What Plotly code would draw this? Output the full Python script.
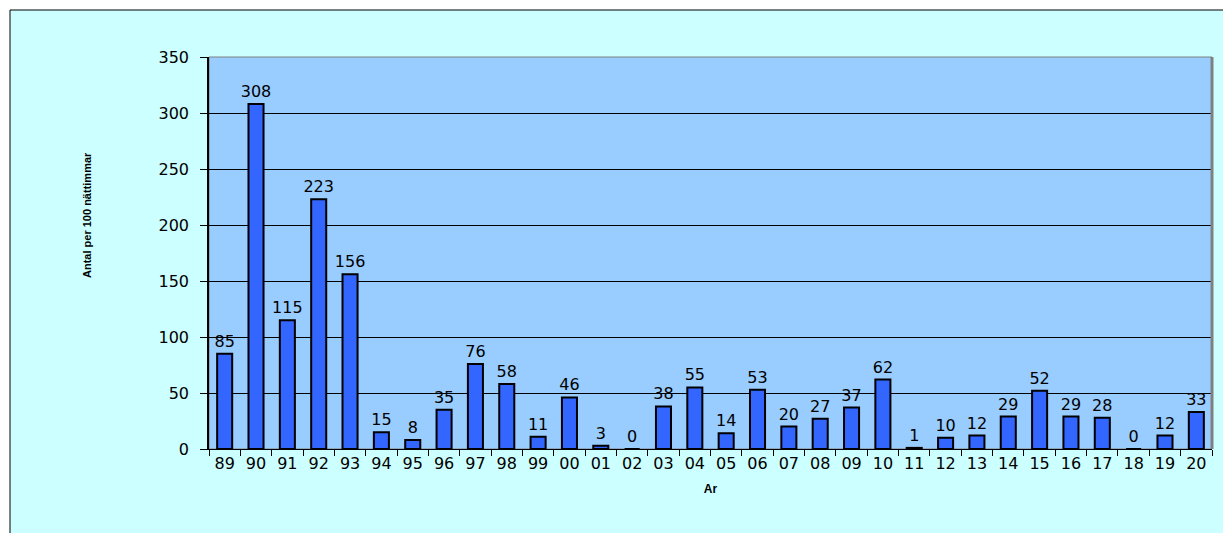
import plotly.graph_objects as go

years = ["89","90","91","92","93","94","95","96","97","98","99","00","01","02","03","04",
         "05","06","07","08","09","10","11","12","13","14","15","16","17","18","19","20"]
values = [85,308,115,223,156,15,8,35,76,58,11,46,3,0,38,55,14,53,20,27,37,62,1,10,12,29,52,29,28,0,12,33]

OFF = 8  # page body margin
W, H = 1231 - OFF, 533 - OFF
L, T = 209 - OFF, 57 - OFF
R = W - (1212 - OFF)
B = H - (449 - OFF)
pw, ph = W - L - R, H - T - B

def px_x(x):
    return (x - OFF - L) / pw

def px_y(y):
    return (H - B - (y - OFF)) / ph

FONT = "DejaVu Sans, Arial"

fig = go.Figure()
fig.add_trace(go.Bar(
    x=years, y=values,
    marker=dict(color="#3366FF", line=dict(color="black", width=2)),
    text=[str(v) for v in values], textposition="outside", constraintext="none",
    textfont=dict(family=FONT, size=16, color="black"),
    cliponaxis=False,
))

fig.update_layout(
    width=W, height=H,
    margin=dict(l=L, r=R, t=T, b=B),
    paper_bgcolor="white",
    plot_bgcolor="#99CCFF",
    bargap=0.52,
    showlegend=False,
    font=dict(family=FONT, color="black"),
    xaxis=dict(
        type="category", tickson="boundaries", ticks="outside", ticklen=6,
        tickcolor="black", showline=True, linecolor="black", linewidth=1,
        tickfont=dict(size=16, family=FONT), showgrid=False,
        title=dict(text="Ar", font=dict(size=12, family="Arial, Liberation Sans", weight="bold"), standoff=12),
    ),
    yaxis=dict(
        range=[0, 350], dtick=50, ticks="outside", ticklen=7, tickcolor="black",
        ticklabelstandoff=8,
        showline=True, linecolor="black", linewidth=1.5,
        gridcolor="black", gridwidth=1, tickfont=dict(size=16, family=FONT),
        zeroline=False,
    ),
    shapes=[
        dict(type="rect", xref="paper", yref="paper",
             x0=px_x(10), x1=px_x(1260), y0=px_y(560), y1=px_y(10),
             fillcolor="#CCFFFF", line=dict(color="black", width=1), layer="below"),
        dict(type="rect", xref="paper", yref="paper",
             x0=0, x1=1, y0=0, y1=1, fillcolor="#99CCFF",
             line=dict(color="#808080", width=1), layer="below"),
        dict(type="line", xref="paper", yref="paper",
             x0=1, x1=1, y0=0, y1=1,
             line=dict(color="#808080", width=3)),
    ],
    annotations=[
        dict(text="<b>Antal per 100 nättimmar</b>", xref="paper", yref="paper",
             x=px_x(87), y=px_y(215), textangle=-90, showarrow=False,
             font=dict(size=11, family="Liberation Sans Narrow, Arial Narrow, Arial"),
             xanchor="center", yanchor="middle"),
    ],
)

fig.write_html("out.html")
